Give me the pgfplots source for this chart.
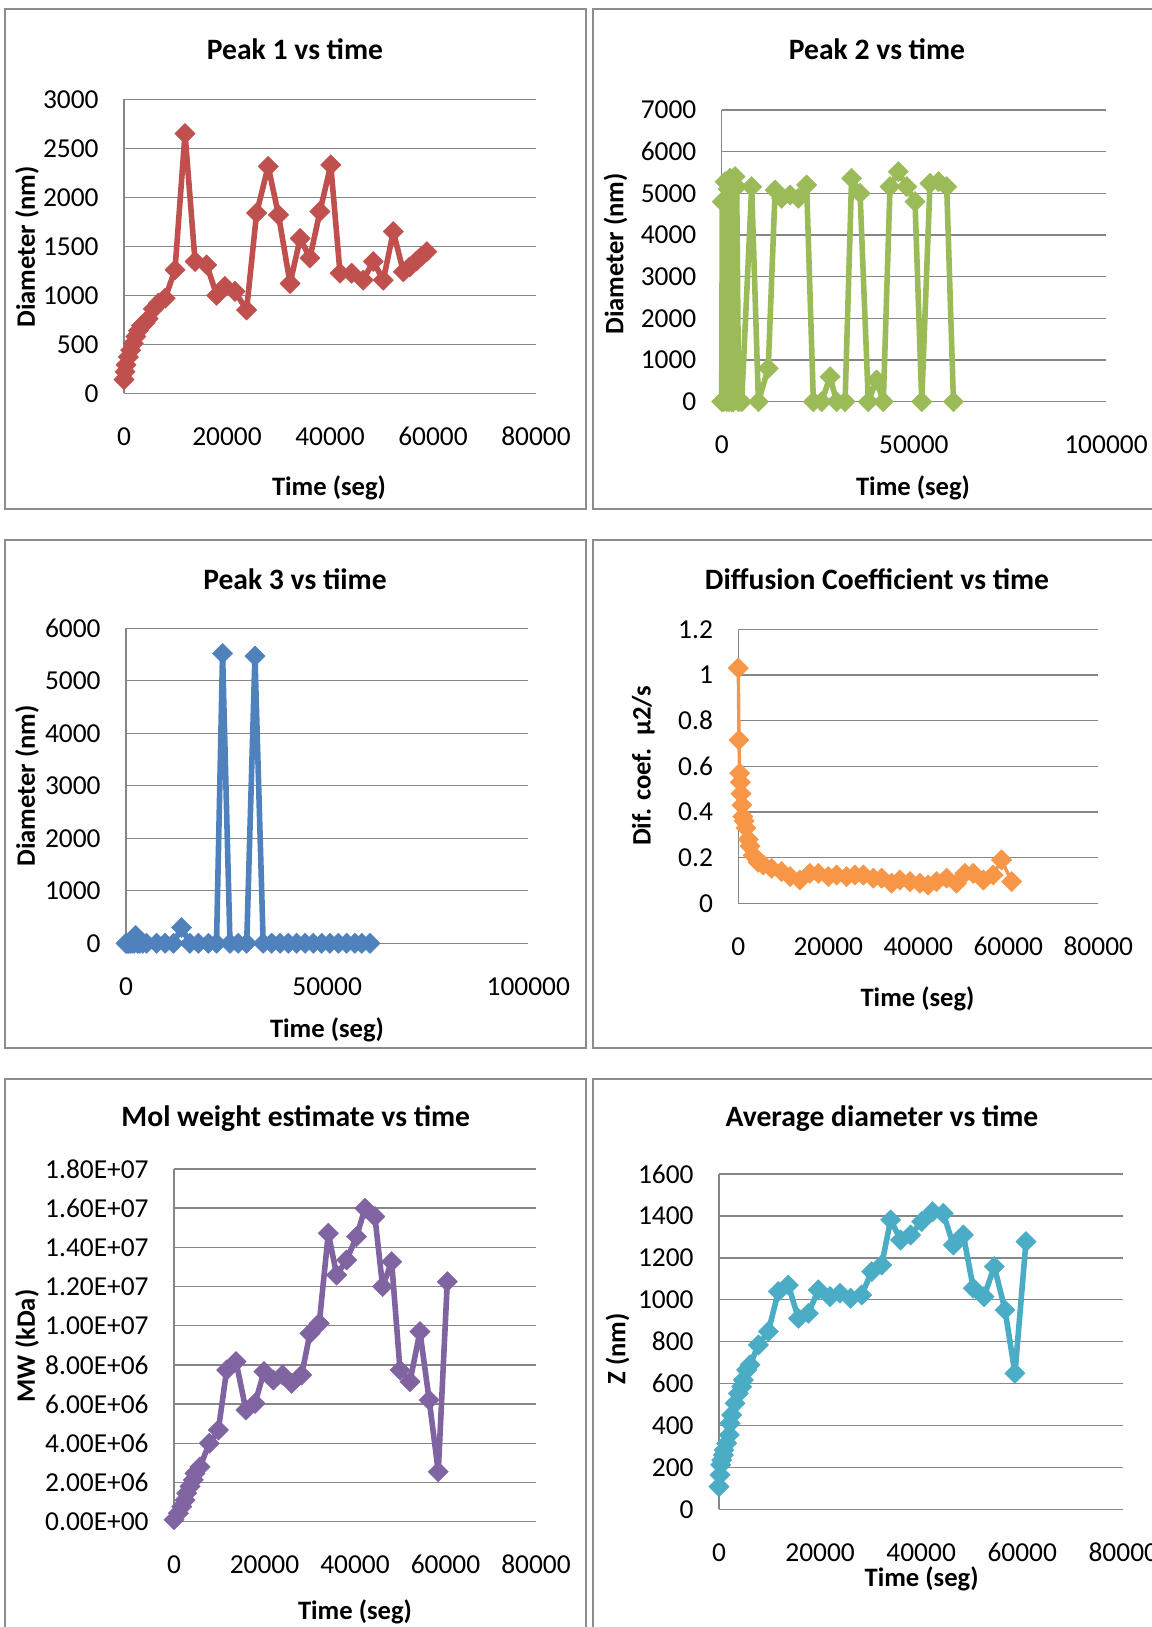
\documentclass[border=0pt]{standalone}
\usepackage{pgfplots}
\pgfplotsset{compat=1.18}
\usepackage{fontspec}
\setmainfont{Carlito}

\definecolor{gridgray}{RGB}{134,134,134}
\definecolor{framegray}{RGB}{140,140,140}
\definecolor{cRed}{RGB}{192,80,77}
\definecolor{cGreen}{RGB}{155,187,89}
\definecolor{cBlue}{RGB}{79,129,189}
\definecolor{cOrange}{RGB}{247,150,70}
\definecolor{cPurple}{RGB}{128,100,162}
\definecolor{cAqua}{RGB}{75,172,198}

\pgfplotsset{
  panel/.style={
    scale only axis, anchor=south west, clip=false,
    axis lines*=left,
    axis line style={draw=gridgray, line width=0.7pt, -},
    ymajorgrids, grid style={draw=gridgray, line width=0.7pt},
    major tick length=0pt, tick style={draw=none},
    scaled ticks=false,
    xmin=0, ymin=0,
    ticklabel style={font=\fontsize{13.7}{16}\selectfont, inner sep=0pt},
    xticklabel style={anchor=center, yshift=-21.5pt},
    yticklabel style={anchor=east, xshift=-12.5pt},
  },
  series/.style={color=#1, line width=2.8pt, line join=round,
    mark=square*, mark size=3.6pt,
    mark options={rotate=45, line width=0.2pt, fill=#1, solid}},
}

\tikzset{
  ctitle/.style={font=\bfseries\fontsize{14.8}{17}\selectfont},
  alabel/.style={font=\bfseries\fontsize{13.3}{16}\selectfont},
  frame/.style={draw=framegray, line width=1pt},
}

\begin{document}
\begin{tikzpicture}
\useasboundingbox (0,0) rectangle (575.5pt,813.5pt);

% chart frames
\draw[frame] (2.5pt,809pt) rectangle (293.2pt,559.2pt);
\draw[frame] (296.3pt,809pt) rectangle (590pt,559.2pt);
\draw[frame] (2.5pt,543.6pt) rectangle (293.2pt,289.4pt);
\draw[frame] (296.3pt,543.6pt) rectangle (590pt,289.4pt);
\draw[frame] (2.5pt,273.8pt) rectangle (293.2pt,-10pt);
\draw[frame] (296.3pt,273.8pt) rectangle (590pt,-10pt);

% Peak 1
\begin{axis}[panel, at={(62pt,616.85pt)}, width=206pt, height=147pt,
  xmax=80000, ymax=3000,
  xtick={0,20000,40000,60000,80000}, xticklabels={0,20000,40000,60000,80000},
  ytick={0,500,1000,1500,2000,2500,3000}, yticklabels={0,500,1000,1500,2000,2500,3000}]
\addplot[series=cRed] coordinates {
(0,140) (200,220) (400,290) (850,370) (1300,440) (1800,510) (2300,580)
(2800,640) (3400,690) (4100,720) (4700,760) (5700,860) (6700,920)
(8000,970) (9900,1260) (11850,2650) (13800,1345) (16050,1310)
(18000,1000) (19600,1090) (21550,1040) (23800,850) (25750,1840)
(28000,2315) (30000,1820) (32250,1120) (34200,1580) (36100,1380)
(38050,1855) (40150,2330) (41950,1225) (44200,1225) (46450,1155)
(48400,1345) (50350,1155) (52300,1650) (54250,1240) (55500,1290)
(56800,1350) (57800,1400) (58800,1445)};
\end{axis}
\node[ctitle] at (147.5pt,789.1pt) {Peak 1 vs time};
\node[alabel, rotate=90] at (13.5pt,690pt) {Diameter (nm)};
\node[alabel] at (164.5pt,569.5pt) {Time (seg)};

% Peak 2
\begin{axis}[panel, at={(360.85pt,612.65pt)}, width=192.15pt, height=145.85pt,
  xmax=100000, ymax=7000,
  xtick={0,50000,100000}, xticklabels={0,50000,100000},
  ytick={0,1000,2000,3000,4000,5000,6000,7000},
  yticklabels={0,1000,2000,3000,4000,5000,6000,7000}]
\addplot[series=cGreen] coordinates {
(0,0) (150,4800) (450,0) (870,5280) (1250,0) (1700,5100) (1950,0)
(2170,5360) (2600,0) (3040,0) (3470,5400) (3900,5160) (4400,0)
(5200,0) (7800,5160) (9550,0) (12100,800) (13900,5080) (15600,4880)
(17800,4960) (19950,4880) (22100,5200) (23850,0) (26000,0) (28200,600)
(29900,0) (32100,0) (33800,5360) (36000,5000) (38150,0) (40300,520)
(42050,0) (43800,5160) (45950,5520) (48150,5160) (50300,4800)
(52050,0) (54200,5240) (56400,5280) (58550,5160) (60300,0)};
\end{axis}
\node[ctitle] at (438.5pt,789.1pt) {Peak 2 vs time};
\node[alabel, rotate=90] at (307.75pt,686.5pt) {Diameter (nm)};
\node[alabel] at (456.5pt,569.5pt) {Time (seg)};

% Peak 3
\begin{axis}[panel, at={(63pt,341.85pt)}, width=201.15pt, height=157.5pt,
  xmax=100000, ymax=6000,
  xtick={0,50000,100000}, xticklabels={0,50000,100000},
  ytick={0,1000,2000,3000,4000,5000,6000},
  yticklabels={0,1000,2000,3000,4000,5000,6000}]
\addplot[series=cBlue] coordinates {
(0,0) (300,0) (600,0) (1000,0) (1500,0) (2000,0) (2400,150) (2900,0)
(3400,0) (4200,0) (5100,0) (7600,0) (9700,0) (11800,0) (13800,300)
(15900,0) (18000,0) (20500,0) (22500,0) (24000,5520) (25850,0)
(27900,0) (30000,0) (32050,5470) (34100,0) (36200,0) (38300,0)
(40350,0) (42400,0) (44500,0) (46550,0) (48650,0) (50700,0) (52800,0)
(54850,0) (56900,0) (58600,0) (60650,0)};
\end{axis}
\node[ctitle] at (147.5pt,524pt) {Peak 3 vs tiime};
\node[alabel, rotate=90] at (13.5pt,420.5pt) {Diameter (nm)};
\node[alabel] at (163.5pt,298.75pt) {Time (seg)};

% Diffusion coefficient
\begin{axis}[panel, at={(369.15pt,361.85pt)}, width=180pt, height=137pt,
  xmax=80000, ymax=1.2,
  xtick={0,20000,40000,60000,80000}, xticklabels={0,20000,40000,60000,80000},
  ytick={0,0.2,0.4,0.6,0.8,1,1.2}, yticklabels={0,0.2,0.4,0.6,0.8,1,1.2}]
\addplot[series=cOrange, line width=1.7pt] coordinates {
(0,1.03) (150,0.715) (300,0.57) (450,0.53) (600,0.48) (800,0.43)
(1000,0.38) (1300,0.36) (1700,0.33) (2200,0.28) (2600,0.25) (3300,0.21)
(4400,0.18) (5550,0.168) (7400,0.153) (9600,0.139) (11500,0.117)
(13700,0.102) (15900,0.131) (17800,0.131) (20000,0.117) (21850,0.124)
(24050,0.117) (25900,0.124) (27800,0.124) (30000,0.110) (31850,0.110)
(34050,0.088) (35900,0.102) (38150,0.095) (40350,0.088) (42200,0.080)
(44050,0.095) (46300,0.110) (48500,0.088) (50350,0.131) (52200,0.131)
(54450,0.102) (56650,0.124) (58500,0.190) (60750,0.095)};
\end{axis}
\node[ctitle] at (438.5pt,524pt) {Diffusion Coefficient vs time};
\node[alabel, rotate=90] at (321.75pt,430.5pt) {Dif. coef.\ \ µ2/s};
\node[alabel] at (458.75pt,314.25pt) {Time (seg)};

% Molecular weight
\begin{axis}[panel, at={(87pt,52.65pt)}, width=181pt, height=176.35pt,
  xmax=80000, ymax=18000000,
  xtick={0,20000,40000,60000,80000}, xticklabels={0,20000,40000,60000,80000},
  ytick={0,2000000,4000000,6000000,8000000,10000000,12000000,14000000,16000000,18000000},
  yticklabels={0.00E+00,2.00E+06,4.00E+06,6.00E+06,8.00E+06,1.00E+07,1.20E+07,1.40E+07,1.60E+07,1.80E+07}]
\addplot[series=cPurple] coordinates {
(0,100000) (960,430000) (1700,770000) (2430,1100000) (2800,1450000)
(3540,1800000) (4270,2130000) (4640,2470000) (5750,2800000)
(7800,4000000) (9800,4680000) (11640,7740000) (13700,8170000)
(15900,5700000) (17900,6040000) (19900,7660000) (21950,7230000)
(24000,7490000) (26000,7060000) (28200,7490000) (30050,9610000)
(32100,10120000) (34100,14720000) (35950,12590000) (38150,13360000)
(40350,14550000) (42200,15990000) (44400,15570000) (46100,12000000)
(48100,13270000) (49950,7740000) (52150,7150000) (54350,9700000)
(56400,6210000) (58400,2550000) (60400,12250000)};
\end{axis}
\node[ctitle] at (147.9pt,254pt) {Mol weight estimate vs time};
\node[alabel, rotate=90] at (13.5pt,140.5pt) {MW (kDa)};
\node[alabel] at (177.5pt,7.5pt) {Time (seg)};

% Average diameter
\begin{axis}[panel, at={(359.5pt,58.85pt)}, width=202.15pt, height=167.65pt,
  xmax=80000, ymax=1600,
  xtick={0,20000,40000,60000,80000}, xticklabels={0,20000,40000,60000,80000},
  ytick={0,200,400,600,800,1000,1200,1400,1600},
  yticklabels={0,200,400,600,800,1000,1200,1400,1600}]
\addplot[series=cAqua] coordinates {
(0,108) (200,164) (330,212) (530,235) (860,259) (990,283) (1520,315)
(2040,355) (2180,410) (2510,450) (3170,506) (3830,553) (4490,585)
(4810,617) (5470,665) (6130,689) (7780,784) (9760,848) (11740,1039)
(13720,1070) (15700,911) (17680,935) (19650,1047) (21960,1015)
(23940,1031) (26050,1007) (28230,1023) (30200,1134) (32180,1166)
(33960,1381) (35940,1285) (37920,1309) (40100,1373) (42270,1420)
(44380,1412) (46360,1261) (48340,1309) (50320,1055) (52430,1015)
(54480,1158) (56590,951) (58560,649) (60740,1277)};
\end{axis}
\node[ctitle] at (441pt,254pt) {Average diameter vs time};
\node[alabel, rotate=90] at (308.75pt,139pt) {Z (nm)};
\node[alabel] at (460.8pt,24.2pt) {Time (seg)};
\end{tikzpicture}
\end{document}
